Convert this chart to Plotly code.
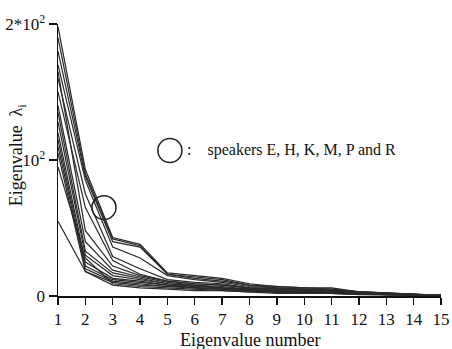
import plotly.graph_objects as go

eig_num = list(range(1, 16))
x_tick_labels = [str(i) for i in eig_num]
y_tick_vals = [0, 100, 200]
y_tick_labels = ["0", "10<sup>2</sup>", "2*10<sup>2</sup>"]

speakers = {
    "s1": [198, 93, 43, 38, 17, 15, 13, 9, 7, 6, 6, 3, 2, 1, 0.5],
    "s2": [190, 90, 42, 37, 16, 14, 12, 8, 7, 6, 5, 3, 2, 1, 0.5],
    "s3": [180, 88, 40, 36, 16, 13, 11, 8, 6, 5, 5, 3, 2, 1, 0.5],
    "s4": [170, 85, 36, 28, 15, 12, 10, 7, 6, 5, 4, 3, 2, 1, 0.5],
    "s5": [160, 75, 29, 20, 12, 10, 9, 6, 5, 4, 4, 2, 2, 1, 0.5],
    "s6": [150, 65, 26, 16, 11, 9, 8, 6, 5, 4, 3, 2, 1.5, 1, 0.5],
    "s7": [140, 40, 19, 14, 10, 8, 7, 5, 4, 3, 3, 2, 1.5, 1, 0.5],
    "s8": [135, 33, 17, 13, 9, 8, 6, 5, 4, 3, 3, 2, 1.5, 1, 0.5],
    "s9": [128, 30, 15, 12, 9, 7, 6, 5, 4, 3, 3, 2, 1, 1, 0.5],
    "s10": [120, 25, 13, 11, 8, 7, 6, 4, 3, 3, 2, 2, 1, 1, 0.5],
    "s11": [115, 22, 12, 10, 8, 6, 5, 4, 3, 3, 2, 2, 1, 0.5, 0.3],
    "s12": [110, 20, 11, 9, 7, 6, 5, 4, 3, 2, 2, 1.5, 1, 0.5, 0.3],
    "s13": [105, 18, 10, 8, 7, 6, 5, 4, 3, 2, 2, 1.5, 1, 0.5, 0.3],
    "s14": [95, 28, 9, 7, 6, 5, 4, 3, 3, 2, 2, 1.5, 1, 0.5, 0.3],
    "s15": [55, 18, 8, 6, 5, 4, 4, 3, 2, 2, 2, 1, 1, 0.5, 0.3],
    "s16": [165, 48, 22, 15, 11, 9, 8, 6, 5, 4, 3, 2, 1.5, 1, 0.5],
}

FONT = "Liberation Serif"

fig = go.Figure()
for name, vals in speakers.items():
    fig.add_trace(go.Scatter(x=eig_num, y=vals, mode="lines", name=name,
                             line=dict(color="#2a2a2a", width=1.2),
                             showlegend=False, hoverinfo="skip"))

# circle marking the highlighted group and its legend circle
fig.add_shape(type="circle", xref="x", yref="y",
              x0=2.68 - 0.44, x1=2.68 + 0.44, y0=65 - 8.8, y1=65 + 8.8,
              line=dict(color="#222", width=1.5))
fig.add_shape(type="circle", xref="x", yref="y",
              x0=5.09 - 0.44, x1=5.09 + 0.44, y0=107 - 8.8, y1=107 + 8.8,
              line=dict(color="#222", width=1.5))
fig.add_annotation(x=5.65, y=107, xref="x", yref="y", xanchor="left", yanchor="middle",
                   text=":&nbsp;&nbsp;&nbsp;&nbsp;speakers E, H, K, M, P and R", showarrow=False,
                   font=dict(family=FONT, size=16, color="#111"))

fig.add_annotation(x=0.5, y=-0.162, xref="paper", yref="paper", xanchor="center", yanchor="middle",
                   text="Eigenvalue number", showarrow=False,
                   font=dict(family=FONT, size=18, color="#111"))
fig.add_annotation(x=-0.105, y=0.52, xref="paper", yref="paper", xanchor="center", yanchor="middle",
                   text="Eigenvalue&nbsp;&nbsp;λ<sub>i</sub>", showarrow=False, textangle=-90,
                   font=dict(family=FONT, size=18, color="#111"))

fig.update_xaxes(range=[1, 15], tickvals=eig_num, ticktext=x_tick_labels, automargin=False,
                 showgrid=False, zeroline=False, showline=True, linecolor="#111", linewidth=1.5,
                 ticks="outside", ticklen=7, tickwidth=1.3, tickcolor="#111",
                 tickfont=dict(family=FONT, size=17, color="#111"))
fig.update_yaxes(range=[0, 200], tickvals=y_tick_vals, ticktext=y_tick_labels, automargin=False,
                 showgrid=False, zeroline=False, showline=True, linecolor="#111", linewidth=1.5,
                 ticks="outside", ticklen=8, tickwidth=1.3, tickcolor="#111",
                 tickfont=dict(family=FONT, size=17, color="#111"))

fig.update_layout(width=452, height=349, margin=dict(l=58, r=11, t=24, b=53, autoexpand=False),
                  font=dict(family=FONT, color="#111"),
                  plot_bgcolor="white", paper_bgcolor="white")

fig.write_html("out.html", config={"displayModeBar": False, "staticPlot": True},
               post_script="document.body.style.margin='0';document.body.style.overflow='hidden';")
